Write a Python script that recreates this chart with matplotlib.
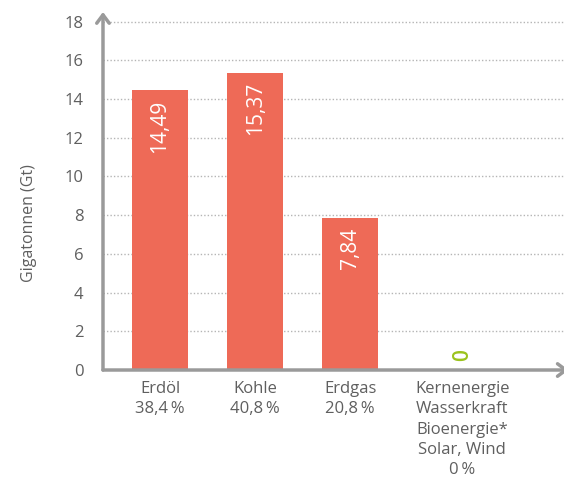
import numpy as np
import matplotlib.pyplot as plt

plt.rcParams['font.family'] = ['Open Sans', 'DejaVu Sans']

# CO2 emissions by energy source
categories = ["Erdöl", "Kohle", "Erdgas", "Kernenergie\nWasserkraft\nBioenergie*\nSolar, Wind"]
shares = ["38,4\u2009%", "40,8\u2009%", "20,8\u2009%", "0\u2009%"]
emissions = [14.49, 15.37, 7.84, 0.0]
value_labels = ["14,49", "15,37", "7,84", "0"]
y_ticks = [0, 2, 4, 6, 8, 10, 12, 14, 16, 18]

bar_color = "#ee6a57"
zero_color = "#9bc31c"
axis_color = "#9a9a9a"
text_color = "#5f5f5f"

fig = plt.figure(figsize=(5.64, 4.95), dpi=100)
ax = fig.add_axes([0.1826, 0.2525, 0.8174, 0.7233])

x = np.arange(len(categories), dtype=float)
x[-1] += 0.18

ax.bar(x, emissions, width=0.59, color=bar_color, zorder=3)

for xi, val, lab in zip(x, emissions, value_labels):
    if val > 0:
        ax.text(xi, val - 0.5, lab, rotation=90, ha="center", va="top",
                color="white", fontsize=15, zorder=4)
    else:
        ax.text(xi, val + 0.45, lab, rotation=90, ha="center", va="bottom",
                color=zero_color, fontsize=15, fontweight="semibold", zorder=4)

xmin, xmax = -0.6, 4.25
ax.set_xlim(xmin, xmax)
ax.set_ylim(0, 18.5)

ax.set_yticks(y_ticks)
ax.set_yticklabels([str(t) for t in y_ticks])
ax.set_xticks(x)
ax.set_xticklabels([c + "\n" + s for c, s in zip(categories, shares)],
                   linespacing=1.35)
ax.tick_params(axis="y", length=0, pad=14, labelsize=12, labelcolor=text_color)
ax.tick_params(axis="x", length=0, pad=8, labelsize=12, labelcolor=text_color)

for t in y_ticks[1:]:
    ax.axhline(t, color="#b5b5b5", lw=1, ls=(0, (1, 1.5)), zorder=1)

for s in ax.spines.values():
    s.set_visible(False)

# axis arrows
ax.annotate("", xy=(xmin, 18.5), xytext=(xmin, 0),
            arrowprops=dict(arrowstyle="->,head_length=0.6,head_width=0.45",
                            color=axis_color, lw=2.5, shrinkA=0, shrinkB=0),
            annotation_clip=False, zorder=5)
ax.annotate("", xy=(xmax + 0.05, 0), xytext=(xmin, 0),
            arrowprops=dict(arrowstyle="->,head_length=0.6,head_width=0.45",
                            color=axis_color, lw=2.5, shrinkA=0, shrinkB=0),
            annotation_clip=False, zorder=5)

ax.set_ylabel("Gigatonnen (Gt)", color=text_color, fontsize=11.5)
ax.yaxis.set_label_coords(-0.143, 0.41)

fig.savefig("out.png", dpi=100)
